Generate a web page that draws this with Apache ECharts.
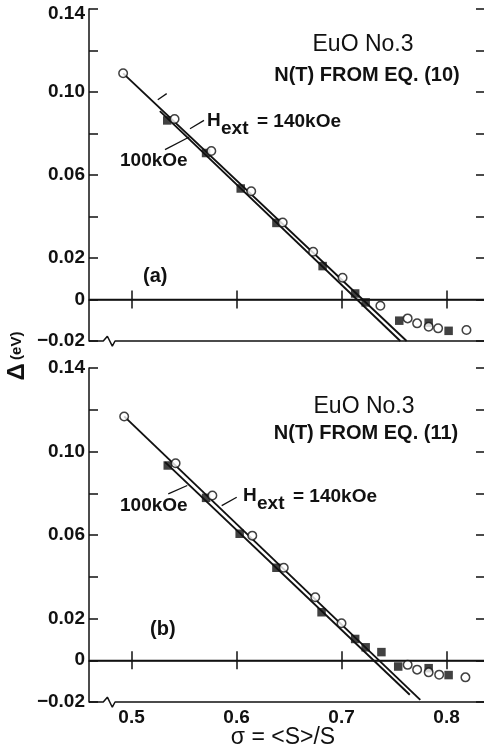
<!DOCTYPE html>
<html>
<head>
<meta charset="utf-8">
<script src="https://cdn.jsdelivr.net/npm/echarts@6/dist/echarts.min.js"></script>
<style>
  html, body { margin: 0; padding: 0; background: #fff; }
  #chart { width: 484px; height: 753px; }
</style>
</head>
<body>
<div id="chart"></div>
<script>
// Energy shift Δ versus reduced magnetization σ = <S>/S, EuO No.3

const sigmaTicks = [0.5, 0.6, 0.7, 0.8];
const deltaTicks = [-0.02, 0, 0.02, 0.04, 0.06, 0.08, 0.10, 0.12, 0.14];
const deltaLabels = [-0.02, 0, 0.02, 0.06, 0.10, 0.14];

// (a) N(T) from Eq. (10)
const aSigma140 = [0.492, 0.541, 0.576, 0.614, 0.644, 0.673, 0.701, 0.737, 0.763, 0.772, 0.783, 0.792, 0.819];
const aDelta140 = [0.109, 0.087, 0.0716, 0.0522, 0.0371, 0.023, 0.0105, -0.003, -0.0091, -0.0115, -0.0131, -0.0139, -0.0147];
const aSigma100 = [0.534, 0.571, 0.604, 0.638, 0.682, 0.713, 0.723, 0.755, 0.783, 0.802];
const aDelta100 = [0.0863, 0.0706, 0.0535, 0.0369, 0.0161, 0.0029, -0.0014, -0.0102, -0.0112, -0.0151];
const aFitSigma140 = [0.492, 0.762];
const aFitDelta140 = [0.109, -0.02];
const aFitSigma100 = [0.527, 0.756];
const aFitDelta100 = [0.0908, -0.02];

// (b) N(T) from Eq. (11)
const bSigma140 = [0.493, 0.542, 0.577, 0.615, 0.645, 0.675, 0.700, 0.763, 0.772, 0.783, 0.793, 0.818];
const bDelta140 = [0.1168, 0.0944, 0.0789, 0.0597, 0.0443, 0.0302, 0.0177, -0.0022, -0.0045, -0.0058, -0.0069, -0.0082];
const bSigma100 = [0.5345, 0.571, 0.603, 0.638, 0.681, 0.713, 0.723, 0.738, 0.754, 0.783, 0.802];
const bDelta100 = [0.0933, 0.0778, 0.0606, 0.0443, 0.023, 0.0102, 0.0062, 0.0039, -0.003, -0.0038, -0.0071];
const bFitSigma140 = [0.493, 0.775];
const bFitDelta140 = [0.1168, -0.019];
const bFitSigma100 = [0.532, 0.765];
const bFitDelta100 = [0.0949, -0.0165];

// label leader segments (σ, Δ pairs)
const aLeader100 = [[0.5319, 0.0722], [0.555, 0.0783]];
const aLeader140 = [[0.5557, 0.0823], [0.569, 0.0863]];
const aStub = [[0.525, 0.0963], [0.5335, 0.0992]];
const bLeader100 = [[0.535, 0.0797], [0.5531, 0.0837]];
const bLeader140 = [[0.5859, 0.0741], [0.6002, 0.0781]];

// axis break on the σ axis
const sigmaMin = 0.4595, sigmaMax = 0.8357;
const breakSigma = [sigmaMin, 0.4731, 0.477, 0.4817, 0.4843, sigmaMax];
const breakDelta = [-0.02, -0.02, -0.0177, -0.0225, -0.02, -0.02];

const INK = '#111';
const FONT = '"Liberation Sans", Arial, Helvetica, sans-serif';

const zip = (xs, ys) => xs.map((x, i) => [x, ys[i]]);

function fmtDelta(v) {
  const r = Math.round(v * 100) / 100;
  if (r === 0) return '0';
  return (r < 0 ? '\u2212' : '') + Math.abs(r).toFixed(2);
}

function xAxes(gi, withLabels) {
  return [
    {
      gridIndex: gi, type: 'value', position: 'bottom', min: sigmaMin, max: sigmaMax,
      axisLine: { show: false },
      axisTick: { show: true, inside: true, length: 9, customValues: sigmaTicks, lineStyle: { color: INK, width: 1.5 } },
      axisLabel: withLabels ? {
        show: true, customValues: sigmaTicks, margin: 6,
        fontFamily: FONT, fontWeight: 'bold', fontSize: 19, color: INK,
        formatter: v => (Math.round(v * 10) / 10).toFixed(1)
      } : { show: false },
      splitLine: { show: false }
    },
    {
      gridIndex: gi, type: 'value', position: 'top', min: sigmaMin, max: sigmaMax,
      axisLine: { show: true, lineStyle: { color: INK, width: 1.5 } },
      axisTick: { show: true, inside: true, length: 9, customValues: sigmaTicks, lineStyle: { color: INK, width: 1.5 } },
      axisLabel: { show: false },
      splitLine: { show: false }
    }
  ];
}

function yAxes(gi, topShift) {
  return [
    {
      gridIndex: gi, type: 'value', position: 'left', min: -0.02, max: 0.14,
      axisLine: { show: true, lineStyle: { color: INK, width: 1.5 } },
      axisTick: { show: true, inside: true, length: 9, customValues: deltaTicks, lineStyle: { color: INK, width: 1.5 } },
      axisLabel: {
        show: true, customValues: deltaLabels, margin: 4,
        fontFamily: FONT, fontWeight: 'bold', fontSize: 19, color: INK,
        formatter: v => (topShift && Math.abs(v - 0.14) < 1e-6) ? '{t|0.14}' : fmtDelta(v),
        rich: { t: { fontFamily: FONT, fontWeight: 'bold', fontSize: 19, color: INK, padding: [9, 0, 0, 0] } }
      },
      splitLine: { show: false }
    },
    {
      gridIndex: gi, type: 'value', position: 'right', min: -0.02, max: 0.14,
      axisLine: { show: false },
      axisTick: { show: true, inside: true, length: 8, customValues: deltaTicks, lineStyle: { color: INK, width: 1.5 } },
      axisLabel: { show: false },
      splitLine: { show: false }
    }
  ];
}

function segment(xi, yi, pts, width) {
  return {
    type: 'line', xAxisIndex: xi, yAxisIndex: yi, data: pts, silent: true,
    symbol: 'none', clip: false, z: 2,
    lineStyle: { color: INK, width: width }
  };
}

function panelSeries(xi, yi, p) {
  const s = [];
  // σ axis with its break, plus the Δ = 0 reference line
  s.push(Object.assign(segment(xi, yi, zip(breakSigma, breakDelta), 1.5), {
    markLine: {
      silent: true, symbol: 'none', label: { show: false },
      lineStyle: { color: INK, width: 1.4, type: 'solid' },
      data: [{ yAxis: 0 }]
    }
  }));
  s.push(segment(xi, yi, zip(p.fitS140, p.fitD140), 1.9));
  s.push(segment(xi, yi, zip(p.fitS100, p.fitD100), 1.9));
  p.leaders.forEach(l => s.push(segment(xi, yi, l, 1.3)));
  s.push({
    type: 'scatter', xAxisIndex: xi, yAxisIndex: yi, data: zip(p.s100, p.d100),
    symbol: 'rect', symbolSize: 8.5, z: 3, silent: true,
    itemStyle: { color: INK }
  });
  s.push({
    type: 'scatter', xAxisIndex: xi, yAxisIndex: yi, data: zip(p.s140, p.d140),
    symbol: 'circle', symbolSize: 8.5, z: 4, silent: true,
    itemStyle: { color: '#fff', borderColor: INK, borderWidth: 1.5 }
  });
  return s;
}

function txt(x, y, text, size, bold, align) {
  return {
    type: 'text', x: x, y: y, silent: true,
    style: {
      text: text, fill: INK,
      font: (bold ? 'bold ' : '') + size + 'px ' + FONT,
      textAlign: align || 'left', textVerticalAlign: 'middle',
      align: align || 'left', verticalAlign: 'middle'
    }
  };
}

const chart = echarts.init(document.getElementById('chart'), null, { renderer: 'canvas' });

chart.setOption({
  backgroundColor: '#fff',
  animation: false,
  grid: [
    { left: 89, top: 9, width: 395, height: 332 },
    { left: 89, top: 368, width: 395, height: 334 }
  ],
  xAxis: [].concat(xAxes(0, false), xAxes(1, true)),
  yAxis: [].concat(yAxes(0, true), yAxes(1, false)),
  series: [].concat(
    panelSeries(0, 0, {
      s140: aSigma140, d140: aDelta140, s100: aSigma100, d100: aDelta100,
      fitS140: aFitSigma140, fitD140: aFitDelta140, fitS100: aFitSigma100, fitD100: aFitDelta100,
      leaders: [aLeader100, aLeader140, aStub]
    }),
    panelSeries(2, 2, {
      s140: bSigma140, d140: bDelta140, s100: bSigma100, d100: bDelta100,
      fitS140: bFitSigma140, fitD140: bFitDelta140, fitS100: bFitSigma100, fitD100: bFitDelta100,
      leaders: [bLeader100, bLeader140]
    })
  ),
  graphic: {
    elements: [
      // panel (a)
      txt(363, 45, 'EuO No.3', 23, false, 'center'),
      txt(367, 75, 'N(T) FROM EQ. (10)', 20, true, 'center'),
      txt(207, 121, 'H', 19, true),
      txt(221, 129, 'ext', 19, true),
      txt(257, 122, '= 140kOe', 19, true),
      txt(120, 161, '100kOe', 19, true),
      txt(143, 276, '(a)', 20, true),
      // panel (b)
      txt(364, 407, 'EuO No.3', 23, false, 'center'),
      txt(366, 433, 'N(T) FROM EQ. (11)', 20, true, 'center'),
      txt(243, 496, 'H', 19, true),
      txt(257, 504, 'ext', 19, true),
      txt(293, 497, '= 140kOe', 19, true),
      txt(120, 506, '100kOe', 19, true),
      txt(150, 629, '(b)', 20, true),
      // axis titles
      {
        type: 'text', x: 17, y: 356, rotation: Math.PI / 2, silent: true,
        style: {
          text: '{d|\u0394} {u|(eV)}',
          textAlign: 'center', textVerticalAlign: 'middle', align: 'center', verticalAlign: 'middle',
          rich: {
            d: { font: 'bold 24px ' + FONT, fill: INK },
            u: { font: 'bold 15px ' + FONT, fill: INK }
          }
        }
      },
      txt(283, 738, '\u03C3 = <S>/S', 23, false, 'center')
    ]
  }
});
</script>
</body>
</html>
